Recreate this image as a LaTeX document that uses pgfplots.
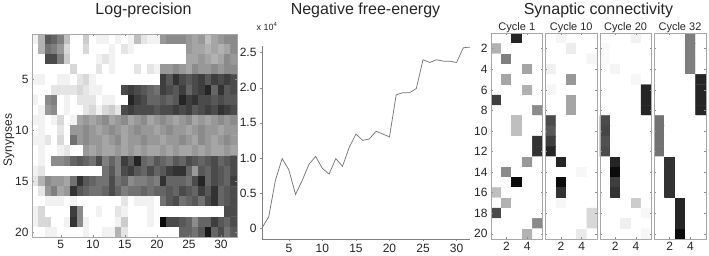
\documentclass[border=0pt]{standalone}
\usepackage{pgfplots}
\pgfplotsset{compat=1.18}
\usepackage{fontspec}
\setmainfont{Liberation Sans}
\definecolor{txt}{HTML}{262626}
\definecolor{boxg}{HTML}{A8A8A8}
\definecolor{axg}{HTML}{808080}
\definecolor{tickg}{HTML}{8C8C8C}
\definecolor{lineg}{HTML}{787878}
\pgfplotsset{
  colormap={wb}{gray(0cm)=(1); gray(1cm)=(0)},
  every axis/.append style={
    scale only axis,
    /pgf/number format/assume math mode=true,
    tick label style={font=\fontsize{12}{12}\selectfont, text=txt},
    major tick length=2pt,
    major tick style={draw=tickg, line width=0.5pt},
  },
  heat/.style={
    anchor=south west, enlargelimits=false, y dir=reverse,
    tick align=inside, axis on top,
    axis line style={draw=boxg, line width=0.6pt},
    colormap name=wb, point meta min=0, point meta max=1,
  },
  cyc/.style={
    heat, width=51.7pt, height=205.7pt,
    xmin=0.5, xmax=5.5, ymin=0.5, ymax=20.5,
    xtick={2,4}, ytick={2,4,6,8,10,12,14,16,18,20},
  },
}
\begin{document}
\begin{tikzpicture}[x=1pt,y=1pt]
\useasboundingbox (0,0) rectangle (709,255);

% ---------- Panel 1: Log-precision (x = cycle, y = synapse, c = darkness) ----------
\begin{axis}[heat, at={(32pt,18pt)}, width=205pt, height=203pt,
  xmin=0.5, xmax=32.5, ymin=0.5, ymax=20.5,
  xtick={5,10,15,20,25,30}, ytick={5,10,15,20}]
\addplot[matrix plot*, mesh/cols=32, point meta=explicit]
 table[row sep=\\, x=x, y=y, meta=c] {%
x y c\\%
1 1 0.05\\2 1 0.3\\3 1 0.65\\4 1 0.6\\5 1 0.5\\6 1 0.25\\7 1 0\\8 1 0\\9 1 0.2\\10 1 0\\11 1 0.05\\12 1 0.05\\13 1 0\\14 1 0.05\\15 1 0\\16 1 0.05\\17 1 0.25\\18 1 0.1\\19 1 0.05\\20 1 0.05\\21 1 0.4\\22 1 0.45\\23 1 0.45\\24 1 0.45\\25 1 0.4\\26 1 0.35\\27 1 0.4\\28 1 0.25\\29 1 0.35\\30 1 0.4\\31 1 0.45\\32 1 0.45\\%
1 2 0\\2 2 0.3\\3 2 0.55\\4 2 0.5\\5 2 0.4\\6 2 0.15\\7 2 0\\8 2 0\\9 2 0.15\\10 2 0\\11 2 0\\12 2 0\\13 2 0.05\\14 2 0\\15 2 0.1\\16 2 0.05\\17 2 0\\18 2 0\\19 2 0\\20 2 0\\21 2 0\\22 2 0\\23 2 0\\24 2 0\\25 2 0.4\\26 2 0.35\\27 2 0.35\\28 2 0.3\\29 2 0.35\\30 2 0.3\\31 2 0.35\\32 2 0.45\\%
1 3 0\\2 3 0\\3 3 0.7\\4 3 0.7\\5 3 0.5\\6 3 0.2\\7 3 0\\8 3 0\\9 3 0\\10 3 0\\11 3 0.05\\12 3 0.1\\13 3 0.05\\14 3 0\\15 3 0\\16 3 0\\17 3 0\\18 3 0\\19 3 0\\20 3 0\\21 3 0\\22 3 0\\23 3 0\\24 3 0\\25 3 0.35\\26 3 0.35\\27 3 0.4\\28 3 0.35\\29 3 0.3\\30 3 0.35\\31 3 0.45\\32 3 0.4\\%
1 4 0\\2 4 0\\3 4 0\\4 4 0\\5 4 0\\6 4 0\\7 4 0.15\\8 4 0\\9 4 0\\10 4 0\\11 4 0.1\\12 4 0\\13 4 0.05\\14 4 0\\15 4 0\\16 4 0\\17 4 0.1\\18 4 0\\19 4 0.1\\20 4 0.05\\21 4 0.4\\22 4 0.4\\23 4 0.45\\24 4 0.4\\25 4 0.35\\26 4 0.45\\27 4 0.4\\28 4 0.4\\29 4 0.45\\30 4 0.4\\31 4 0.45\\32 4 0.45\\%
1 5 0.05\\2 5 0.05\\3 5 0\\4 5 0\\5 5 0.05\\6 5 0.05\\7 5 0\\8 5 0.1\\9 5 0.15\\10 5 0.05\\11 5 0\\12 5 0\\13 5 0\\14 5 0\\15 5 0\\16 5 0\\17 5 0\\18 5 0\\19 5 0\\20 5 0\\21 5 0.75\\22 5 0.65\\23 5 0.8\\24 5 0.7\\25 5 0.65\\26 5 0.7\\27 5 0.75\\28 5 0.65\\29 5 0.75\\30 5 0.7\\31 5 0.75\\32 5 0.7\\%
1 6 0\\2 6 0\\3 6 0\\4 6 0.1\\5 6 0.1\\6 6 0.1\\7 6 0.1\\8 6 0.15\\9 6 0.1\\10 6 0.05\\11 6 0.05\\12 6 0\\13 6 0\\14 6 0\\15 6 0.7\\16 6 0.75\\17 6 0.7\\18 6 0.65\\19 6 0.6\\20 6 0.55\\21 6 0.75\\22 6 0.7\\23 6 0.65\\24 6 0.75\\25 6 0.6\\26 6 0.7\\27 6 0.75\\28 6 0.85\\29 6 0.6\\30 6 0.8\\31 6 0.65\\32 6 0.7\\%
1 7 0.05\\2 7 0\\3 7 0.45\\4 7 0.5\\5 7 0\\6 7 0.05\\7 7 0\\8 7 0.1\\9 7 0.1\\10 7 0.1\\11 7 0\\12 7 0.05\\13 7 0.05\\14 7 0\\15 7 0\\16 7 0.85\\17 7 0.75\\18 7 0.7\\19 7 0.6\\20 7 0.6\\21 7 0.65\\22 7 0.6\\23 7 0.65\\24 7 0.85\\25 7 0.75\\26 7 0.8\\27 7 0.7\\28 7 0.7\\29 7 0.65\\30 7 0.7\\31 7 0.65\\32 7 0.65\\%
1 8 0\\2 8 0.05\\3 8 0.4\\4 8 0.45\\5 8 0\\6 8 0.05\\7 8 0\\8 8 0\\9 8 0.1\\10 8 0.15\\11 8 0.05\\12 8 0.15\\13 8 0.2\\14 8 0.1\\15 8 0.7\\16 8 0.75\\17 8 0.7\\18 8 0.7\\19 8 0.7\\20 8 0.65\\21 8 0.7\\22 8 0.7\\23 8 0.75\\24 8 0.7\\25 8 0.75\\26 8 0.65\\27 8 0.7\\28 8 0.75\\29 8 0.7\\30 8 0.8\\31 8 0.75\\32 8 0.7\\%
1 9 0.05\\2 9 0.05\\3 9 0\\4 9 0.05\\5 9 0.15\\6 9 0\\7 9 0.05\\8 9 0.35\\9 9 0.4\\10 9 0.35\\11 9 0.4\\12 9 0.45\\13 9 0.35\\14 9 0.4\\15 9 0.45\\16 9 0.35\\17 9 0.4\\18 9 0.45\\19 9 0.35\\20 9 0.4\\21 9 0.45\\22 9 0.4\\23 9 0.35\\24 9 0.4\\25 9 0.45\\26 9 0.35\\27 9 0.4\\28 9 0.35\\29 9 0.4\\30 9 0.45\\31 9 0.4\\32 9 0.45\\%
1 10 0\\2 10 0.05\\3 10 0\\4 10 0\\5 10 0.1\\6 10 0\\7 10 0.4\\8 10 0.4\\9 10 0.45\\10 10 0.4\\11 10 0.35\\12 10 0.4\\13 10 0.45\\14 10 0.4\\15 10 0.35\\16 10 0.4\\17 10 0.45\\18 10 0.4\\19 10 0.4\\20 10 0.35\\21 10 0.4\\22 10 0.45\\23 10 0.4\\24 10 0.4\\25 10 0.35\\26 10 0.4\\27 10 0.45\\28 10 0.4\\29 10 0.4\\30 10 0.35\\31 10 0.4\\32 10 0.4\\%
1 11 0.05\\2 11 0.05\\3 11 0.1\\4 11 0\\5 11 0.15\\6 11 0\\7 11 0.55\\8 11 0.4\\9 11 0.45\\10 11 0.4\\11 11 0.4\\12 11 0.35\\13 11 0.4\\14 11 0.45\\15 11 0.35\\16 11 0.4\\17 11 0.4\\18 11 0.45\\19 11 0.4\\20 11 0.4\\21 11 0.35\\22 11 0.4\\23 11 0.4\\24 11 0.45\\25 11 0.4\\26 11 0.35\\27 11 0.45\\28 11 0.4\\29 11 0.35\\30 11 0.4\\31 11 0.45\\32 11 0.4\\%
1 12 0\\2 12 0.05\\3 12 0\\4 12 0\\5 12 0.05\\6 12 0.1\\7 12 0\\8 12 0\\9 12 0.4\\10 12 0.35\\11 12 0.4\\12 12 0.35\\13 12 0.35\\14 12 0.4\\15 12 0.35\\16 12 0.4\\17 12 0.35\\18 12 0.4\\19 12 0.35\\20 12 0.35\\21 12 0.4\\22 12 0.35\\23 12 0.4\\24 12 0.35\\25 12 0.35\\26 12 0.4\\27 12 0.35\\28 12 0.4\\29 12 0.35\\30 12 0.35\\31 12 0.4\\32 12 0.35\\%
1 13 0\\2 13 0.05\\3 13 0\\4 13 0.45\\5 13 0.45\\6 13 0.5\\7 13 0.6\\8 13 0.65\\9 13 0.6\\10 13 0.55\\11 13 0.7\\12 13 0.5\\13 13 0.6\\14 13 0.5\\15 13 0.75\\16 13 0.65\\17 13 0.85\\18 13 0.6\\19 13 0.55\\20 13 0.65\\21 13 0.6\\22 13 0.55\\23 13 0.65\\24 13 0.6\\25 13 0.7\\26 13 0.65\\27 13 0.6\\28 13 0.65\\29 13 0.7\\30 13 0.6\\31 13 0.65\\32 13 0.7\\%
1 14 0.05\\2 14 0.1\\3 14 0\\4 14 0\\5 14 0\\6 14 0\\7 14 0\\8 14 0\\9 14 0\\10 14 0\\11 14 0\\12 14 0.55\\13 14 0.65\\14 14 0.5\\15 14 0.7\\16 14 0.75\\17 14 0.65\\18 14 0.6\\19 14 0.7\\20 14 0.6\\21 14 0.65\\22 14 0.75\\23 14 0.8\\24 14 0.8\\25 14 0.6\\26 14 0.4\\27 14 0.65\\28 14 0.6\\29 14 0.7\\30 14 0.65\\31 14 0.6\\32 14 0.7\\%
1 15 0.1\\2 15 0.3\\3 15 0.45\\4 15 0.4\\5 15 0.4\\6 15 0.35\\7 15 0.55\\8 15 0.8\\9 15 0.65\\10 15 0.6\\11 15 0.55\\12 15 0.55\\13 15 0.7\\14 15 0.55\\15 15 0.6\\16 15 0.45\\17 15 0.5\\18 15 0.5\\19 15 0.55\\20 15 0.5\\21 15 0.8\\22 15 0.6\\23 15 0.6\\24 15 0.6\\25 15 0.55\\26 15 0.7\\27 15 0.85\\28 15 0.6\\29 15 0.7\\30 15 0.65\\31 15 0.6\\32 15 0.75\\%
1 16 0\\2 16 0.1\\3 16 0.4\\4 16 0.5\\5 16 0.35\\6 16 0.4\\7 16 0.8\\8 16 0.65\\9 16 0.6\\10 16 0.55\\11 16 0.55\\12 16 0.6\\13 16 0.7\\14 16 0.6\\15 16 0.5\\16 16 0.55\\17 16 0.55\\18 16 0.6\\19 16 0.55\\20 16 0.6\\21 16 0.6\\22 16 0.65\\23 16 0.6\\24 16 0.7\\25 16 0.65\\26 16 0.6\\27 16 0.75\\28 16 0.65\\29 16 0.8\\30 16 0.6\\31 16 0.65\\32 16 0.7\\%
1 17 0\\2 17 0\\3 17 0.05\\4 17 0.05\\5 17 0.05\\6 17 0\\7 17 0.05\\8 17 0\\9 17 0\\10 17 0\\11 17 0\\12 17 0\\13 17 0\\14 17 0\\15 17 0.1\\16 17 0\\17 17 0.05\\18 17 0.05\\19 17 0.05\\20 17 0\\21 17 0.55\\22 17 0.65\\23 17 0.7\\24 17 0.55\\25 17 0.6\\26 17 0.65\\27 17 0.55\\28 17 0.7\\29 17 0.8\\30 17 0.6\\31 17 0.65\\32 17 0.7\\%
1 18 0.05\\2 18 0.15\\3 18 0\\4 18 0\\5 18 0\\6 18 0\\7 18 0.75\\8 18 0.45\\9 18 0\\10 18 0\\11 18 0.05\\12 18 0\\13 18 0\\14 18 0.1\\15 18 0.05\\16 18 0\\17 18 0\\18 18 0\\19 18 0.05\\20 18 0\\21 18 0\\22 18 0\\23 18 0\\24 18 0\\25 18 0\\26 18 0\\27 18 0\\28 18 0\\29 18 0\\30 18 0\\31 18 0.7\\32 18 0.7\\%
1 19 0.05\\2 19 0.15\\3 19 0.15\\4 19 0\\5 19 0\\6 19 0.05\\7 19 0.8\\8 19 0.45\\9 19 0.05\\10 19 0\\11 19 0\\12 19 0\\13 19 0\\14 19 0.05\\15 19 0.2\\16 19 0\\17 19 0\\18 19 0\\19 19 0.05\\20 19 0\\21 19 0.95\\22 19 0.7\\23 19 0.7\\24 19 0.65\\25 19 0.6\\26 19 0.45\\27 19 0.6\\28 19 0.6\\29 19 0.75\\30 19 0.65\\31 19 0.6\\32 19 0.7\\%
1 20 0\\2 20 0\\3 20 0.05\\4 20 0.05\\5 20 0\\6 20 0\\7 20 0\\8 20 0\\9 20 0.05\\10 20 0\\11 20 0\\12 20 0.05\\13 20 0.05\\14 20 0.3\\15 20 0.1\\16 20 0\\17 20 0\\18 20 0\\19 20 0\\20 20 0\\21 20 0\\22 20 0\\23 20 0\\24 20 0.6\\25 20 0.6\\26 20 0.55\\27 20 0.65\\28 20 0.9\\29 20 0.6\\30 20 0.7\\31 20 0.55\\32 20 0.65\\%
};
\end{axis}

% ---------- Panel 2: Negative free-energy ----------
\begin{axis}[anchor=south west, at={(262pt,16pt)}, width=208pt, height=193.3pt,
  xmin=1, xmax=32, ymin=-0.157, ymax=2.6,
  axis x line*=bottom, axis y line*=left,
  axis line style={draw=axg, line width=0.6pt, -},
  xtick={5,10,15,20,25,30}, ytick={0,0.5,1,1.5,2,2.5},
  yticklabels={0,0.5,1.0,1.5,2.0,2.5},
  tick align=outside]
\addplot[lineg, line width=0.75pt] coordinates {
(1,0.00) (2,0.16) (3,0.68) (4,0.99) (5,0.83) (6,0.48) (7,0.68) (8,0.91)
(9,1.02) (10,0.85) (11,0.77) (12,0.99) (13,0.88) (14,1.15) (15,1.34) (16,1.25)
(17,1.27) (18,1.38) (19,1.34) (20,1.30) (21,1.90) (22,1.93) (23,1.93) (24,1.99)
(25,2.40) (26,2.36) (27,2.40) (28,2.38) (29,2.38) (30,2.36) (31,2.57) (32,2.58)
};
\end{axis}

% ---------- Panel 3: Synaptic connectivity ----------
\begin{axis}[cyc, at={(491pt,16pt)}]
\addplot[matrix plot*, mesh/cols=5, point meta=explicit]
 table[row sep=\\, x=x, y=y, meta=c] {%
x y c\\%
1 1 0\\2 1 0\\3 1 0.85\\4 1 0\\5 1 0\\%
1 2 0.3\\2 2 0\\3 2 0\\4 2 0\\5 2 0\\%
1 3 0\\2 3 0.5\\3 3 0\\4 3 0\\5 3 0\\%
1 4 0\\2 4 0\\3 4 0\\4 4 0.35\\5 4 0\\%
1 5 0\\2 5 0.35\\3 5 0\\4 5 0\\5 5 0\\%
1 6 0\\2 6 0\\3 6 0\\4 6 0.3\\5 6 0\\%
1 7 0.75\\2 7 0\\3 7 0\\4 7 0\\5 7 0\\%
1 8 0\\2 8 0\\3 8 0\\4 8 0\\5 8 0.45\\%
1 9 0\\2 9 0\\3 9 0.25\\4 9 0\\5 9 0\\%
1 10 0\\2 10 0\\3 10 0.25\\4 10 0\\5 10 0\\%
1 11 0\\2 11 0\\3 11 0\\4 11 0\\5 11 0.8\\%
1 12 0\\2 12 0\\3 12 0\\4 12 0\\5 12 0.8\\%
1 13 0\\2 13 0\\3 13 0\\4 13 0.4\\5 13 0\\%
1 14 0\\2 14 0.45\\3 14 0\\4 14 0\\5 14 0\\%
1 15 0\\2 15 0\\3 15 0.95\\4 15 0\\5 15 0\\%
1 16 0.25\\2 16 0\\3 16 0\\4 16 0\\5 16 0\\%
1 17 0\\2 17 0.3\\3 17 0\\4 17 0\\5 17 0\\%
1 18 0.7\\2 18 0\\3 18 0\\4 18 0\\5 18 0\\%
1 19 0\\2 19 0\\3 19 0\\4 19 0\\5 19 0.45\\%
1 20 0\\2 20 0\\3 20 0\\4 20 0.3\\5 20 0\\%
};
\end{axis}

\begin{axis}[cyc, at={(545.4pt,16pt)}, yticklabels={}]
\addplot[matrix plot*, mesh/cols=5, point meta=explicit]
 table[row sep=\\, x=x, y=y, meta=c] {%
x y c\\%
1 1 0\\2 1 0.04\\3 1 0\\4 1 0\\5 1 0\\%
1 2 0\\2 2 0\\3 2 0.07\\4 2 0\\5 2 0\\%
1 3 0\\2 3 0\\3 3 0\\4 3 0\\5 3 0.04\\%
1 4 0.06\\2 4 0\\3 4 0\\4 4 0\\5 4 0\\%
1 5 0\\2 5 0\\3 5 0.4\\4 5 0\\5 5 0\\%
1 6 0.03\\2 6 0\\3 6 0\\4 6 0\\5 6 0\\%
1 7 0\\2 7 0\\3 7 0.35\\4 7 0\\5 7 0\\%
1 8 0\\2 8 0\\3 8 0.35\\4 8 0\\5 8 0\\%
1 9 0.7\\2 9 0\\3 9 0\\4 9 0\\5 9 0\\%
1 10 0.65\\2 10 0\\3 10 0\\4 10 0\\5 10 0\\%
1 11 0.75\\2 11 0\\3 11 0\\4 11 0\\5 11 0\\%
1 12 0.85\\2 12 0\\3 12 0\\4 12 0\\5 12 0\\%
1 13 0\\2 13 0.85\\3 13 0\\4 13 0\\5 13 0\\%
1 14 0\\2 14 0\\3 14 0\\4 14 0.03\\5 14 0\\%
1 15 0\\2 15 0.95\\3 15 0\\4 15 0\\5 15 0\\%
1 16 0\\2 16 0.8\\3 16 0\\4 16 0\\5 16 0\\%
1 17 0\\2 17 0.03\\3 17 0\\4 17 0\\5 17 0\\%
1 18 0\\2 18 0\\3 18 0\\4 18 0\\5 18 0.15\\%
1 19 0\\2 19 0\\3 19 0\\4 19 0\\5 19 0.15\\%
1 20 0\\2 20 0\\3 20 0\\4 20 0.08\\5 20 0\\%
};
\end{axis}

\begin{axis}[cyc, at={(599.8pt,16pt)}, yticklabels={}]
\addplot[matrix plot*, mesh/cols=5, point meta=explicit]
 table[row sep=\\, x=x, y=y, meta=c] {%
x y c\\%
1 1 0\\2 1 0\\3 1 0\\4 1 0.05\\5 1 0\\%
1 2 0.02\\2 2 0\\3 2 0\\4 2 0\\5 2 0\\%
1 3 0.02\\2 3 0\\3 3 0\\4 3 0\\5 3 0\\%
1 4 0\\2 4 0.04\\3 4 0\\4 4 0\\5 4 0\\%
1 5 0\\2 5 0\\3 5 0\\4 5 0.03\\5 5 0\\%
1 6 0\\2 6 0\\3 6 0\\4 6 0\\5 6 0.85\\%
1 7 0\\2 7 0\\3 7 0\\4 7 0\\5 7 0.85\\%
1 8 0\\2 8 0\\3 8 0\\4 8 0\\5 8 0.85\\%
1 9 0.7\\2 9 0\\3 9 0\\4 9 0\\5 9 0\\%
1 10 0.72\\2 10 0\\3 10 0\\4 10 0\\5 10 0\\%
1 11 0.68\\2 11 0\\3 11 0\\4 11 0\\5 11 0\\%
1 12 0.7\\2 12 0\\3 12 0\\4 12 0\\5 12 0\\%
1 13 0\\2 13 0.85\\3 13 0\\4 13 0\\5 13 0\\%
1 14 0\\2 14 0.95\\3 14 0\\4 14 0\\5 14 0\\%
1 15 0\\2 15 0.75\\3 15 0\\4 15 0\\5 15 0\\%
1 16 0\\2 16 0.8\\3 16 0\\4 16 0\\5 16 0\\%
1 17 0\\2 17 0\\3 17 0\\4 17 0.2\\5 17 0\\%
1 18 0\\2 18 0\\3 18 0\\4 18 0\\5 18 0.03\\%
1 19 0\\2 19 0\\3 19 0.06\\4 19 0\\5 19 0\\%
1 20 0\\2 20 0\\3 20 0\\4 20 0\\5 20 0.03\\%
};
\end{axis}

\begin{axis}[cyc, at={(654.2pt,16pt)}, yticklabels={}]
\addplot[matrix plot*, mesh/cols=5, point meta=explicit]
 table[row sep=\\, x=x, y=y, meta=c] {%
x y c\\%
1 1 0\\2 1 0\\3 1 0\\4 1 0.5\\5 1 0\\%
1 2 0\\2 2 0\\3 2 0\\4 2 0.5\\5 2 0\\%
1 3 0\\2 3 0\\3 3 0\\4 3 0.5\\5 3 0\\%
1 4 0\\2 4 0\\3 4 0\\4 4 0.5\\5 4 0\\%
1 5 0\\2 5 0\\3 5 0\\4 5 0\\5 5 0.85\\%
1 6 0\\2 6 0\\3 6 0\\4 6 0\\5 6 0.85\\%
1 7 0\\2 7 0\\3 7 0\\4 7 0\\5 7 0.85\\%
1 8 0\\2 8 0\\3 8 0\\4 8 0\\5 8 0.85\\%
1 9 0.55\\2 9 0\\3 9 0\\4 9 0\\5 9 0\\%
1 10 0.55\\2 10 0\\3 10 0\\4 10 0\\5 10 0\\%
1 11 0.55\\2 11 0\\3 11 0\\4 11 0\\5 11 0\\%
1 12 0.55\\2 12 0\\3 12 0\\4 12 0\\5 12 0\\%
1 13 0\\2 13 0.8\\3 13 0\\4 13 0\\5 13 0\\%
1 14 0\\2 14 0.8\\3 14 0\\4 14 0\\5 14 0\\%
1 15 0\\2 15 0.8\\3 15 0\\4 15 0\\5 15 0\\%
1 16 0\\2 16 0.8\\3 16 0\\4 16 0\\5 16 0\\%
1 17 0\\2 17 0\\3 17 0.85\\4 17 0\\5 17 0\\%
1 18 0\\2 18 0\\3 18 0.85\\4 18 0\\5 18 0\\%
1 19 0\\2 19 0\\3 19 0.85\\4 19 0\\5 19 0\\%
1 20 0\\2 20 0\\3 20 0.95\\4 20 0\\5 20 0\\%
};
\end{axis}

% ---------- texts ----------
\begin{scope}[every node/.style={text=txt, inner sep=0pt}]
\node[anchor=base, font=\fontsize{16}{16}\selectfont] at (143.5,240.5) {Log-precision};
\node[anchor=base, font=\fontsize{16}{16}\selectfont] at (365.5,240.5) {Negative free-energy};
\node[anchor=base, font=\fontsize{16}{16}\selectfont] at (598.5,240.5) {Synaptic connectivity};
\node[anchor=base, font=\fontsize{11}{11}\selectfont] at (516.8,224) {Cycle 1};
\node[anchor=base, font=\fontsize{11}{11}\selectfont] at (571.2,224) {Cycle 10};
\node[anchor=base, font=\fontsize{11}{11}\selectfont] at (625.6,224) {Cycle 20};
\node[anchor=base, font=\fontsize{11}{11}\selectfont] at (680,224) {Cycle 32};
\node[rotate=90, anchor=center, font=\fontsize{12}{12}\selectfont] at (9,115) {Synypses};
\node[anchor=base west, font=\fontsize{9}{9}\selectfont] at (256.5,225) {x 10\textsuperscript{4}};
\end{scope}
\end{tikzpicture}
\end{document}
